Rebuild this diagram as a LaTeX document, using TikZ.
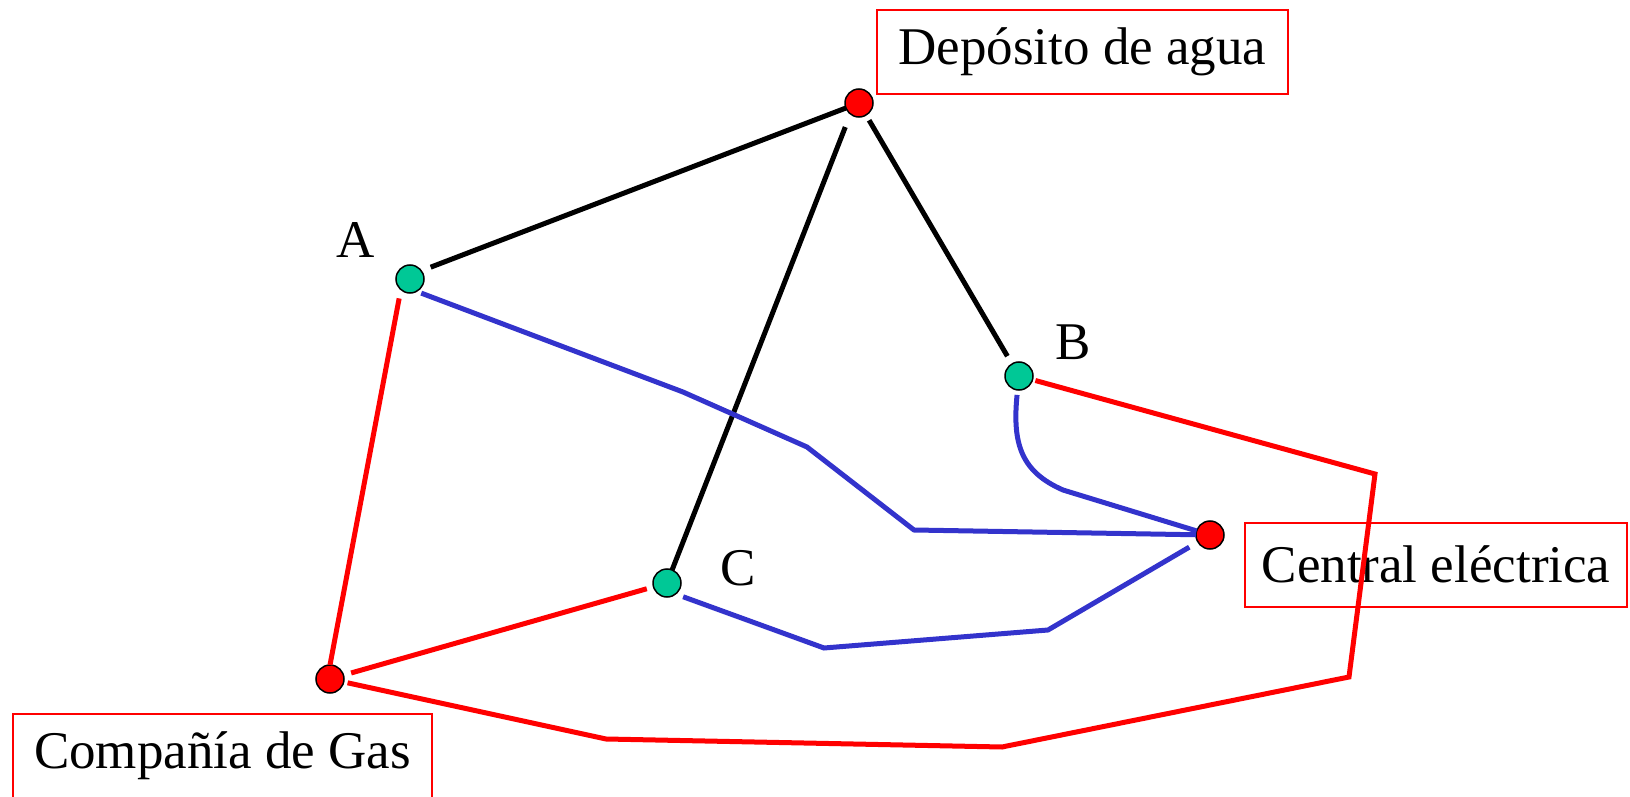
\documentclass[tikz,border=0pt]{standalone}
\usepackage{fontspec}
\setmainfont{Liberation Serif}
\usepackage{tikz}
\usetikzlibrary{calc}
\usepackage{xcolor}
\definecolor{dotgreen}{RGB}{0,200,150}
\definecolor{wireblue}{RGB}{51,51,204}
\tikzset{
  house/.style={
    circle, draw=black, line width=0.75pt, fill=dotgreen,
    minimum size=14pt, inner sep=0pt, outer sep=0pt
  },
  plant/.style={
    circle, draw=black, line width=0.75pt, fill=red,
    minimum size=14pt, inner sep=0pt, outer sep=0pt
  },
  namebox/.style={
    rectangle, draw=red, line width=1pt, fill=white,
    minimum height=42pt, inner sep=0pt,
    font=\fontsize{26.5}{30}\selectfont
  },
  letter/.style={font=\fontsize{26.5}{30}\selectfont, inner sep=0pt},
  water/.style={draw=black, line width=2.5pt},
  gasline/.style={draw=red, line width=2.5pt},
  power/.style={draw=wireblue, line width=2.5pt}
}

\begin{document}
\begin{tikzpicture}[x=0.5pt, y=-0.5pt]
\useasboundingbox (0,0) rectangle (1630,797);

% ── Utilities and houses ────────────────────────────────────
\node[plant] (dep)  at (859,103) {};
\node[plant] (elec) at (1210,535) {};
\node[plant] (gas)  at (330,679) {};
\node[house] (a) at (410,279) {};
\node[house] (b) at (1019,376) {};
\node[house] (c) at (667,583) {};

% ── Labels ──────────────────────────────────────────────────
\node[letter] (labA) at (356,240) {A};
\node[letter] (labB) at (1073,342) {B};
\node[letter] (labC) at (738,568) {C};

\node[namebox, minimum width=205.5pt] (depbox)  at (1082.5,52) {Depósito de agua};
\node[namebox, minimum width=191pt]   (elecbox) at (1436,564.5) {Central eléctrica};

% ── Water (black) ───────────────────────────────────────────
\draw[water, shorten <=5pt] (a.36) -- (dep);
\draw[water, shorten <=7pt] (dep.-128) -- (c);
\draw[water, shorten <=3pt, shorten >=4.5pt] (dep) -- (b);

% ── Gas (red) ───────────────────────────────────────────────
\draw[gasline, shorten <=4.5pt] (a.-131) -- (gas.north);
\draw[gasline, shorten <=4pt, shorten >=3.5pt] (gas) -- (c);
\draw[gasline, shorten <=1.5pt, shorten >=2pt]
  (b) -- (1375,474) -- (1349,677) -- (1002,747) -- (606,739) -- (gas);

% ── Electricity (blue) ──────────────────────────────────────
\draw[power, shorten <=2.5pt]
  (a.-62) -- (683,392) -- (807,447) -- (914,530) -- (elec);
\draw[power, shorten <=2.5pt]
  (b) .. controls (1012,445) and (1022,472) .. (1063,490) -- (elec);
\draw[power, shorten <=4pt, shorten >=5pt]
  (c.-52) -- (824,648) -- (1048,630) -- (elec);

% ── Gas company box (over the red line) ─────────────────────
\node[namebox, minimum width=209.5pt] (gasbox) at (222.5,756) {Compañía de Gas};

\end{tikzpicture}
\end{document}
